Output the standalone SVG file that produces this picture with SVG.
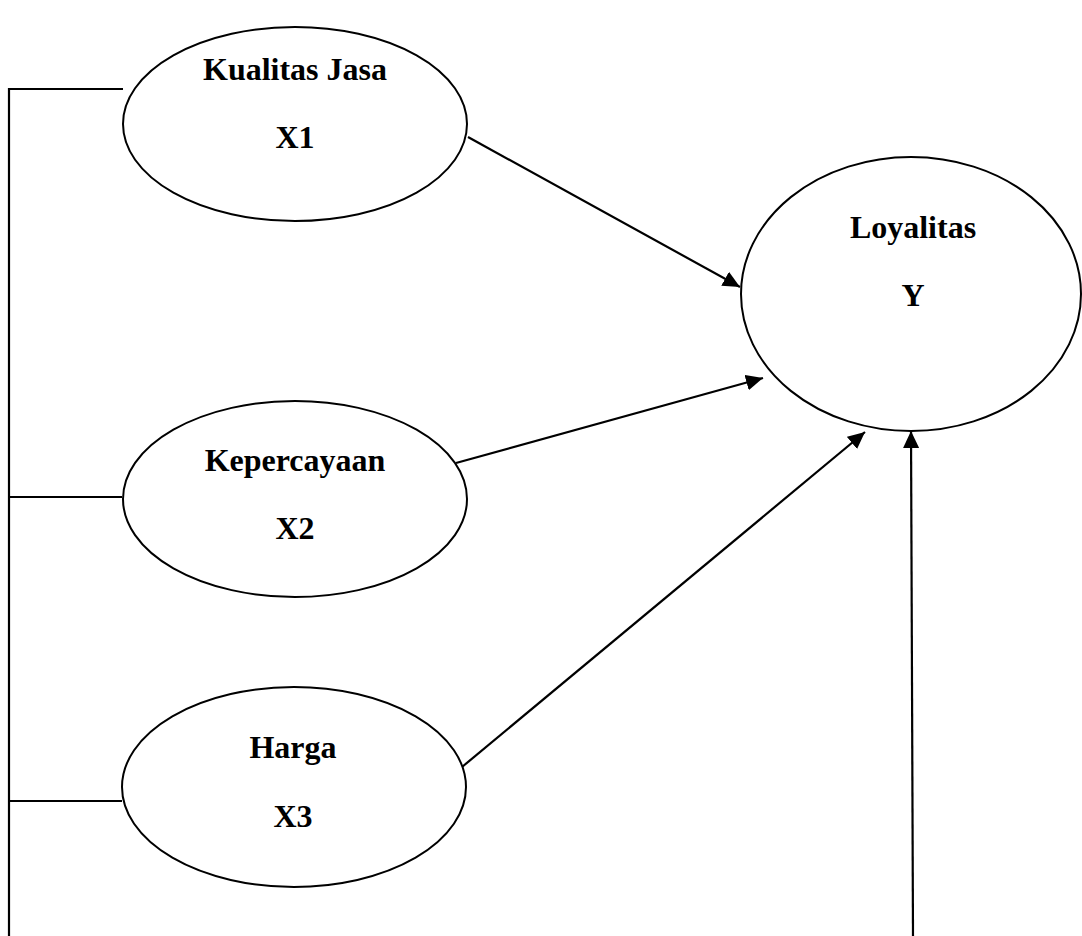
<svg xmlns="http://www.w3.org/2000/svg" width="1082" height="936" viewBox="0 0 1082 936">
<style>
.node ellipse{fill:#fff;stroke:#000;stroke-width:2}
.node text{font-family:"Liberation Serif","Times New Roman",serif;font-weight:bold;font-size:32px;text-anchor:middle;fill:#000}
.conn line,.conn polyline{stroke:#000;stroke-width:2.2;fill:none}
</style>
<defs>
<marker id="ah" markerUnits="userSpaceOnUse" markerWidth="18" markerHeight="16" refX="17" refY="8" orient="auto">
<path d="M0,0 L17,8 L0,16 z" fill="#000"/>
</marker>
</defs>
<rect width="1082" height="936" fill="#fff"/>
<g class="conn" id="connectors">
<polyline points="123,89 9,89 9,936"/>
<line x1="8" y1="497" x2="122" y2="497"/>
<line x1="9" y1="801" x2="122" y2="801"/>
<line x1="468" y1="137" x2="740" y2="287" marker-end="url(#ah)"/>
<line x1="456" y1="463" x2="763" y2="378" marker-end="url(#ah)"/>
<line x1="462" y1="767" x2="865" y2="432" marker-end="url(#ah)"/>
<line x1="913" y1="936" x2="911" y2="431" marker-end="url(#ah)"/>
</g>
<g class="node" id="x1">
<ellipse cx="295" cy="124" rx="172" ry="97"/>
<text x="295" y="80">Kualitas Jasa</text>
<text x="295" y="148">X1</text>
</g>
<g class="node" id="x2">
<ellipse cx="295" cy="499" rx="172" ry="98"/>
<text x="295" y="471">Kepercayaan</text>
<text x="295" y="539">X2</text>
</g>
<g class="node" id="x3">
<ellipse cx="294" cy="787" rx="172" ry="100"/>
<text x="293" y="758">Harga</text>
<text x="293" y="827">X3</text>
</g>
<g class="node" id="y">
<ellipse cx="911" cy="294" rx="170" ry="137"/>
<text x="913" y="238">Loyalitas</text>
<text x="913" y="306">Y</text>
</g>
</svg>
